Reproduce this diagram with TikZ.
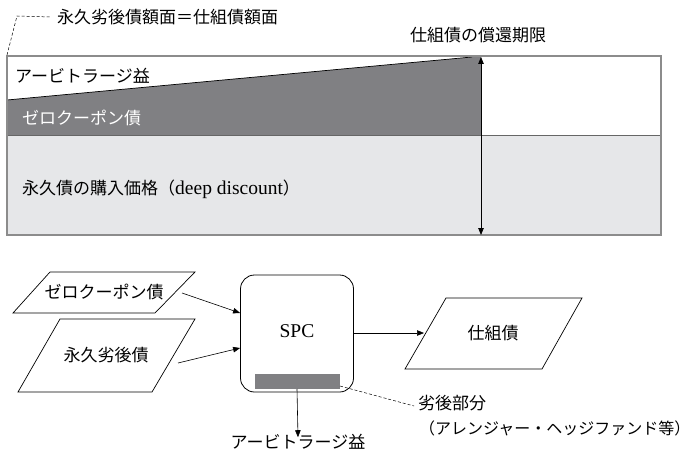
\documentclass[tikz,border=0pt]{standalone}
\usepackage{fontspec}
\setmainfont{Liberation Serif}
\newfontfamily\cjk{Noto Sans CJK JP}
\usetikzlibrary{arrows.meta}
\definecolor{darkband}{RGB}{128,128,131}
\definecolor{lightband}{RGB}{230,231,233}
\definecolor{framegray}{RGB}{140,140,140}
\begin{document}
\begin{tikzpicture}[x=1pt,y=-1pt,
  jp/.style={font=\cjk\fontsize{17}{20}\selectfont, inner sep=0pt},
  lat/.style={font=\fontsize{19.5}{22}\selectfont, inner sep=0pt},
  tip/.tip={Triangle[length=7pt,width=5.5pt]},
  arr/.style={-tip, line width=0.6pt},
  frame/.style={draw=framegray, line width=1.3pt},
  para/.style={draw, line width=0.7pt, line join=miter}]
\useasboundingbox (0,0) rectangle (696,452);
% ---- upper chart ----
\fill[white] (7,56) rectangle (661,135);
\fill[lightband] (7,135) rectangle (661,235);
\fill[darkband] (7,100) -- (472,57) -- (481,57) -- (481,135) -- (7,135) -- cycle;
\draw[line width=0.7pt] (7,100) -- (472,57);
\draw[black!60, line width=1pt] (7,135) -- (661,135);
\draw[frame] (7,56) rectangle (661,235);
\coordinate (mtop) at (481,57);
\coordinate (mbot) at (481,235);
\draw[tip-tip, line width=0.8pt] (mtop) -- (mbot);
\node[jp, anchor=west] (face) at (57,17) {永久劣後債額面＝仕組債額面};
\coordinate (fc) at (7,55);
\coordinate (fk) at (17,16);
\draw[dashed, line width=0.5pt, dash pattern=on 3pt off 2pt] (fc) -- (fk) -- ([xshift=-6pt]face.west);
\node[jp] (mat) at (478,35) {仕組債の償還期限};
\node[jp, anchor=west] (arb) at (15,76) {アービトラージ益};
\node[jp, anchor=west, text=white] (zcl) at (22,118) {ゼロクーポン債};
\node[anchor=west, inner sep=0pt] (perp) at (22,189)
  {{\cjk\fontsize{17}{20}\selectfont 永久債の購入価格（}{\fontsize{19.5}{22}\selectfont deep discount}{\cjk\fontsize{17}{20}\selectfont ）}};
% ---- lower flow ----
\draw[para] (50,272) -- (195,272) -- (155,313) -- (13,313) -- cycle;
\node[jp] (zc) at (104,292) {ゼロクーポン債};
\draw[para] (60,319) -- (195,319) -- (152,392) -- (18,392) -- cycle;
\node[jp] (perpb) at (106,355) {永久劣後債};
\node[draw, rounded corners=14pt, line width=0.8pt, minimum width=113pt, minimum height=117pt, inner sep=0pt] (spc) at (297,333.5) {};
\node[lat] (spct) at (297,331) {SPC};
\fill[darkband] (255,374) rectangle (340,389);
\coordinate (bar) at (297,389);
\coordinate (barr) at (340,386);
\draw[para] (446,298) -- (582,298) -- (542,369) -- (405,369) -- cycle;
\node[jp] (sb) at (493,333) {仕組債};
\coordinate (zcout) at (182,293);
\coordinate (pbout) at (178,363);
\coordinate (spczc) at (spc.west |- 0,313);
\coordinate (spcpb) at (spc.west |- 0,348);
\coordinate (sbin) at (424,333);
\draw[arr] (zcout) -- (spczc);
\draw[arr] (pbout) -- (spcpb);
\draw[arr] (spc.east |- sbin) -- (sbin);
\node[jp] (arbb) at (298,442) {アービトラージ益};
\draw[arr] (bar) -- ([yshift=-3pt]arbb.north);
\node[jp, anchor=west] (sub) at (418,403) {劣後部分};
\node[jp, font=\cjk\fontsize{16}{20}\selectfont, anchor=west] (arr2) at (419,428) {（アレンジャー・ヘッジファンド等）};
\draw[dashed, line width=0.5pt, dash pattern=on 3pt off 2pt] (barr) -- ([xshift=-4pt,yshift=-3pt]sub.west);
\end{tikzpicture}
\end{document}
